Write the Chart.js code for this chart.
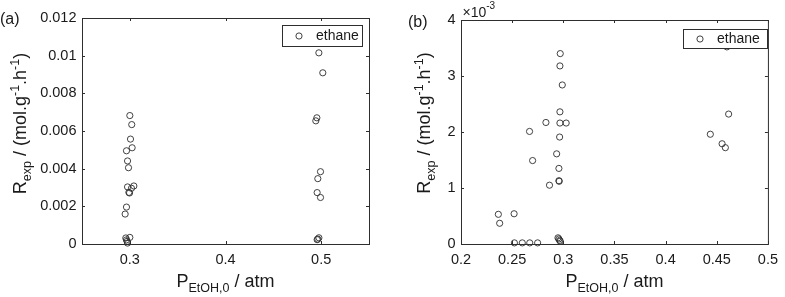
<!DOCTYPE html>
<html><head><meta charset="utf-8">
<script src="https://cdn.jsdelivr.net/npm/chart.js@4"></script>
<style>
html,body{margin:0;padding:0;background:#fff;overflow:hidden}
#wrap{position:relative;width:785px;height:297px}
.c{position:absolute;top:0}
</style></head><body>
<div id="wrap">
<canvas id="ca" class="c" style="left:0" width="390" height="297"></canvas>
<canvas id="cb" class="c" style="left:390px" width="395" height="297"></canvas>
</div>
<script>
// ---- data (panel a) ----
const aX = [0.3000,0.3020,0.3007,0.3024,0.2965,0.2976,0.2986,0.2976,0.3042,0.3017,0.2997,0.2990,0.2965,0.2951,
            0.2958,0.3000,0.2972,0.2976,0.2965,
            0.4976,0.5017,0.4955,0.4944,0.4993,0.4965,0.4958,0.4993,0.4976,0.4965,0.4958];
const aY = [0.00682,0.00634,0.00557,0.00511,0.00495,0.00441,0.00405,0.00303,0.00308,0.00296,0.00271,0.00274,0.00196,0.00159,
            0.00032,0.00035,0.00014,0.00005,0.00022,
            0.01015,0.00909,0.00670,0.00654,0.00384,0.00347,0.00273,0.00247,0.00033,0.00026,0.00023];
const aXTicks = [0.3,0.4,0.5];
const aXLabels = ['0.3','0.4','0.5'];
const aYTicks = [0,0.002,0.004,0.006,0.008,0.010,0.012];
const aYLabels = ['0','0.002','0.004','0.006','0.008','0.01','0.012'];
// ---- data (panel b) ----
const bX = [0.2970,0.2967,0.2990,0.2967,0.2967,0.3028,0.2830,0.2670,0.2964,0.2935,0.2700,0.2957,0.2957,0.2960,0.2865,
            0.2365,0.2378,0.2519,0.2522,0.2599,0.2672,0.2749,0.2948,0.2957,0.2964,0.2970,
            0.4616,0.4437,0.4552,0.4584,0.4599];
const bY = [0.00340,0.00318,0.00284,0.00236,0.00216,0.00216,0.00217,0.00201,0.00191,0.00161,0.00149,0.00135,0.00113,0.00112,0.00105,
            0.00053,0.00037,0.00054,0.00002,0.00002,0.00002,0.00002,0.00011,0.00009,0.000065,0.00005,
            0.00232,0.00196,0.00179,0.00172,0.00352];
const bXTicks = [0.2,0.25,0.3,0.35,0.4,0.45,0.5];
const bXLabels = ['0.2','0.25','0.3','0.35','0.4','0.45','0.5'];
const bYTicks = [0,0.001,0.002,0.003,0.004];
const bYLabels = ['0','1','2','3','4'];
const seriesName = 'ethane';

const FONT = '"Liberation Sans", Arial, Helvetica, sans-serif';
const TXT = '#1a1a1a';
const AX = '#2e2e2e';

function richWidth(ctx, segs){
  let w = 0;
  for (const s of segs){ ctx.font = s.s + 'px ' + FONT; w += ctx.measureText(s.t).width; }
  return w;
}
function richDraw(ctx, segs, x, y){ // x = start, y = baseline
  ctx.textAlign = 'left'; ctx.textBaseline = 'alphabetic';
  for (const s of segs){ ctx.font = s.s + 'px ' + FONT; ctx.fillText(s.t, x, y + (s.dy||0)); x += ctx.measureText(s.t).width; }
}
const yTitle = [{t:'R',s:18},{t:'exp',s:12.5,dy:5},{t:' / (mol.g',s:18},{t:'-1',s:12.5,dy:-7},{t:'.h',s:18},{t:'-1',s:12.5,dy:-7},{t:')',s:18}];
const xTitle = [{t:'P',s:18},{t:'EtOH,0',s:12.5,dy:5},{t:' / atm',s:18}];

function decoPlugin(cfg){
  return {
    id:'deco',
    afterDraw(chart){
      const ctx = chart.ctx, a = chart.chartArea;
      const xs = chart.scales.x, ys = chart.scales.y;
      ctx.save();
      // box
      ctx.strokeStyle = AX; ctx.lineWidth = 1;
      ctx.strokeRect(a.left + 0.5, a.top + 0.5, a.right - a.left, a.bottom - a.top);
      // inward ticks
      ctx.beginPath();
      for (const t of xs.ticks){
        const p = Math.round(xs.getPixelForValue(t.value)) + 0.5;
        ctx.moveTo(p, a.bottom); ctx.lineTo(p, a.bottom - 3);
        ctx.moveTo(p, a.top); ctx.lineTo(p, a.top + 3);
      }
      for (const t of ys.ticks){
        const p = Math.round(ys.getPixelForValue(t.value)) + 0.5;
        ctx.moveTo(a.left, p); ctx.lineTo(a.left + 3, p);
        ctx.moveTo(a.right, p); ctx.lineTo(a.right - 3, p);
      }
      ctx.stroke();
      // legend
      const L = cfg.legend;
      ctx.fillStyle = '#fff'; ctx.fillRect(L.x, L.y, L.w, L.h);
      ctx.strokeStyle = AX; ctx.lineWidth = 1; ctx.strokeRect(L.x + 0.5, L.y + 0.5, L.w, L.h);
      const my = L.y + L.h / 2 + 0.5;
      ctx.beginPath(); ctx.arc(L.x + 17, my, 3.1, 0, Math.PI * 2); ctx.lineWidth = 0.9; ctx.stroke();
      ctx.fillStyle = TXT; ctx.font = '14px ' + FONT; ctx.textAlign = 'left'; ctx.textBaseline = 'middle';
      ctx.fillText(chart.data.datasets[0].label, L.x + 34, my);
      // panel label
      ctx.font = '16px ' + FONT; ctx.textBaseline = 'middle';
      ctx.fillText(cfg.panel, cfg.panelX, cfg.panelY);
      // x title
      ctx.fillStyle = TXT;
      const wx = richWidth(ctx, xTitle);
      richDraw(ctx, xTitle, (a.left + a.right) / 2 - wx / 2, 287);
      // y title
      const wy = richWidth(ctx, yTitle);
      ctx.save();
      ctx.translate(cfg.yTitleX, cfg.yTitleCY);
      ctx.rotate(-Math.PI / 2);
      richDraw(ctx, yTitle, -wy / 2, 0);
      ctx.restore();
      // exponent
      if (cfg.exp){
        richDraw(ctx, [{t:'\u00d710',s:14},{t:'-3',s:10,dy:-8}], a.left + 1.5, 17);
      }
      ctx.restore();
    }
  };
}

function makeChart(id, xs, ys, o){
  return new Chart(document.getElementById(id), {
    type:'scatter',
    data:{datasets:[{
      label: seriesName,
      data: xs.map((x, i) => ({x: x, y: ys[i]})),
      pointStyle:'circle', pointRadius:3.1, pointHoverRadius:3.1, pointBorderWidth:0.9, pointHoverBorderWidth:0.9,
      pointBorderColor: AX, pointBackgroundColor:'rgba(0,0,0,0)', clip:false
    }]},
    options:{
      responsive:false, animation:false, events:[],
      layout:{autoPadding:false, padding:{left:0, top:o.top, right:o.right, bottom:0}},
      plugins:{legend:{display:false}, tooltip:{enabled:false}},
      scales:{
        x:{type:'linear', min:o.xmin, max:o.xmax,
           grid:{display:false, drawTicks:false}, border:{display:false},
           afterBuildTicks: s => { s.ticks = o.xTicks.map(v => ({value:v})); },
           afterFit: s => { s.height = 297 - o.bottom; },
           ticks:{padding:7, color:TXT, font:{family:FONT, size:14.5}, maxRotation:0, autoSkip:false,
                  callback:(v, i) => o.xLabels[i]}},
        y:{type:'linear', min:o.ymin, max:o.ymax,
           grid:{display:false, drawTicks:false}, border:{display:false},
           afterBuildTicks: s => { s.ticks = o.yTicks.map(v => ({value:v})); },
           afterFit: s => { s.width = o.left; },
           ticks:{padding:5.5, color:TXT, font:{family:FONT, size:14.5}, autoSkip:false,
                  callback:(v, i) => o.yLabels[i]}}
      }
    },
    plugins:[decoPlugin(o.deco)]
  });
}

makeChart('ca', aX, aY, {
  top:18, right:21, bottom:244, left:82,
  xmin:0.25, xmax:0.55, ymin:0, ymax:0.012,
  xTicks:aXTicks, xLabels:aXLabels, yTicks:aYTicks, yLabels:aYLabels,
  deco:{legend:{x:282, y:25, w:80, h:21}, panel:'(a)', panelX:0, panelY:20, yTitleX:26, yTitleCY:123.5, exp:false}
});
makeChart('cb', bX, bY, {
  top:20, right:10, bottom:244, left:71,
  xmin:0.2, xmax:0.5, ymin:0, ymax:0.004,
  xTicks:bXTicks, xLabels:bXLabels, yTicks:bYTicks, yLabels:bYLabels,
  deco:{legend:{x:293, y:29, w:84, h:19}, panel:'(b)', panelX:18, panelY:23, yTitleX:40, yTitleCY:123, exp:true}
});
</script>
</body></html>
